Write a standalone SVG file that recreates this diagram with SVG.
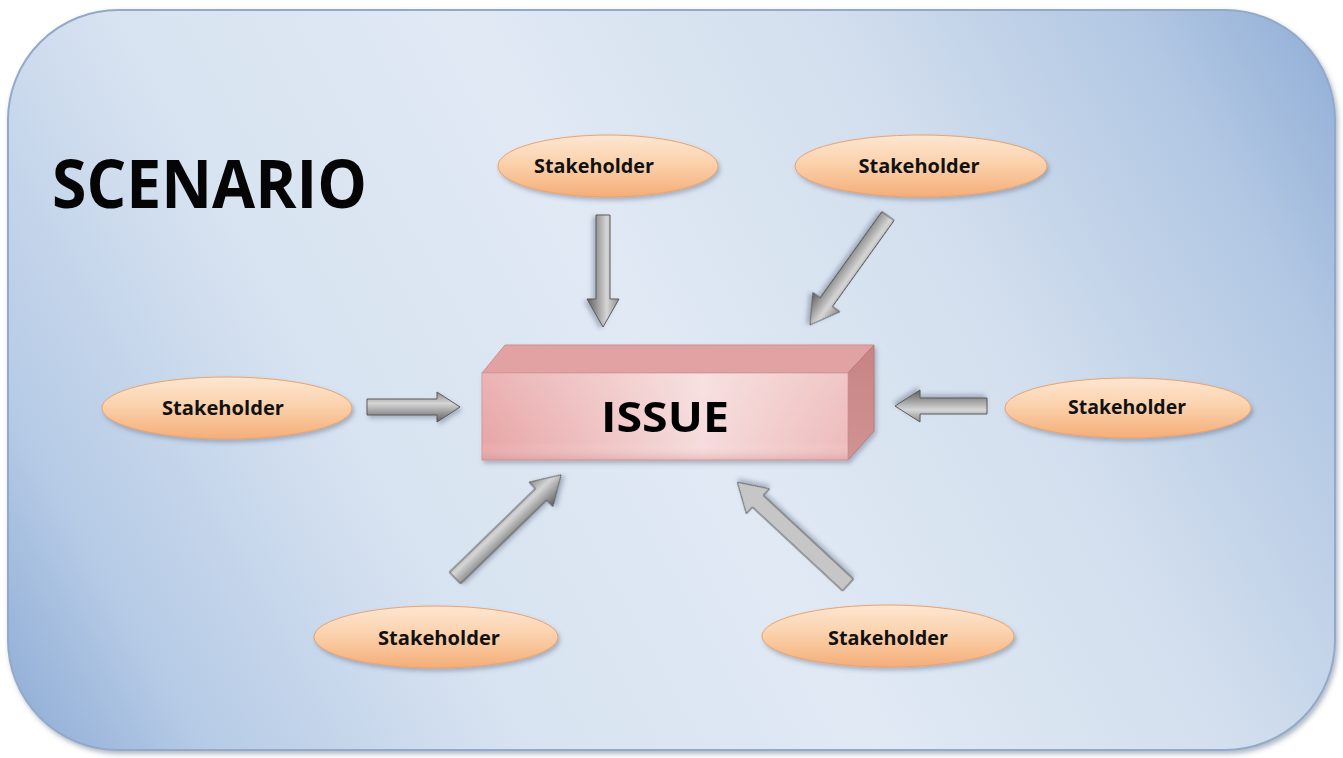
<svg xmlns="http://www.w3.org/2000/svg" width="1343" height="758" viewBox="0 0 1343 758">
  <defs>
    <linearGradient id="bg" gradientUnits="userSpaceOnUse" x1="0" y1="758" x2="1343" y2="0">
      <stop offset="0" stop-color="#8aa9d4"/>
      <stop offset="0.12" stop-color="#b6cbe6"/>
      <stop offset="0.3" stop-color="#d8e3f1"/>
      <stop offset="0.5" stop-color="#e0e9f4"/>
      <stop offset="0.7" stop-color="#d3dfee"/>
      <stop offset="0.88" stop-color="#b1c7e3"/>
      <stop offset="1" stop-color="#8dabd5"/>
    </linearGradient>
    <linearGradient id="peach" x1="0" y1="0" x2="0" y2="1">
      <stop offset="0" stop-color="#fde6d2"/>
      <stop offset="0.45" stop-color="#fbd2ad"/>
      <stop offset="1" stop-color="#f4ad78"/>
    </linearGradient>
    <linearGradient id="steel" x1="0" y1="0" x2="0" y2="1">
      <stop offset="0" stop-color="#8c8c8c"/>
      <stop offset="0.38" stop-color="#d6d6d6"/>
      <stop offset="1" stop-color="#5e5e5e"/>
    </linearGradient>
    <linearGradient id="front" x1="0" y1="0" x2="1" y2="0">
      <stop offset="0" stop-color="#e8a6a7"/>
      <stop offset="0.6" stop-color="#f6dcdc"/>
      <stop offset="1" stop-color="#eebcbc"/>
    </linearGradient>
    <linearGradient id="frontShade" x1="0" y1="0" x2="0" y2="1">
      <stop offset="0" stop-color="#ffffff" stop-opacity="0.15"/>
      <stop offset="0.8" stop-color="#ffffff" stop-opacity="0"/>
      <stop offset="1" stop-color="#c98888" stop-opacity="0.35"/>
    </linearGradient>
    <linearGradient id="top" x1="0" y1="0" x2="1" y2="0">
      <stop offset="0" stop-color="#e2a1a2"/>
      <stop offset="1" stop-color="#e0a2a2"/>
    </linearGradient>
    <linearGradient id="side" x1="0" y1="0" x2="0" y2="1">
      <stop offset="0" stop-color="#c88383"/>
      <stop offset="1" stop-color="#d19393"/>
    </linearGradient>
    <filter id="shadow" x="-10%" y="-20%" width="130%" height="150%">
      <feDropShadow dx="2" dy="3" stdDeviation="2" flood-color="#40506a" flood-opacity="0.35"/>
    </filter>
    <filter id="panelShadow" x="-5%" y="-5%" width="110%" height="110%">
      <feDropShadow dx="2" dy="3" stdDeviation="2.5" flood-color="#50607a" flood-opacity="0.45"/>
    </filter>
    <style>
      .ell { fill: url(#peach); stroke: #eba26c; stroke-width: 1; filter: url(#shadow); }
      .lbl { font-family: "Open Sans", "Liberation Sans", sans-serif; font-weight: bold; font-size: 19px; fill: #111111; text-anchor: middle; }
      .arrow { fill: url(#steel); stroke: #5a5a5a; stroke-width: 1; filter: url(#shadow); }
      .title { font-family: "Open Sans", "Liberation Sans", sans-serif; font-weight: bold; fill: #050505; }
    </style>
  </defs>

  <!-- backdrop panel -->
  <rect x="8" y="10" width="1327" height="740" rx="110" ry="110" fill="url(#bg)" stroke="#93a9c9" stroke-width="2" filter="url(#panelShadow)"/>

  <text class="title" x="52" y="208" font-size="66" textLength="315" lengthAdjust="spacingAndGlyphs">SCENARIO</text>

  <!-- central box -->
  <g id="issue" filter="url(#shadow)">
    <polygon points="482,373 505,345 874,345 848,373" fill="url(#top)" stroke="#cf8f8f" stroke-width="1"/>
    <polygon points="848,373 874,345 874,431 848,460" fill="url(#side)" stroke="#b97a7a" stroke-width="1"/>
    <rect x="482" y="373" width="366" height="87" fill="url(#front)" stroke="#d49696" stroke-width="1"/>
    <rect x="482" y="373" width="366" height="87" fill="url(#frontShade)"/>
    <text class="title" x="665" y="432" font-size="42" text-anchor="middle" textLength="128" lengthAdjust="spacingAndGlyphs">ISSUE</text>
  </g>

  <!-- stakeholders -->
  <g id="stakeholder-top">
    <ellipse class="ell" cx="608" cy="166" rx="110" ry="31"/>
    <text class="lbl" x="594" y="173" textLength="120" lengthAdjust="spacingAndGlyphs">Stakeholder</text>
  </g>
  <g id="stakeholder-top-right">
    <ellipse class="ell" cx="921" cy="166" rx="126" ry="31"/>
    <text class="lbl" x="919" y="173" textLength="121" lengthAdjust="spacingAndGlyphs">Stakeholder</text>
  </g>
  <g id="stakeholder-left">
    <ellipse class="ell" cx="227" cy="408" rx="125" ry="31"/>
    <text class="lbl" x="223" y="415" textLength="122" lengthAdjust="spacingAndGlyphs">Stakeholder</text>
  </g>
  <g id="stakeholder-right">
    <ellipse class="ell" cx="1128" cy="408" rx="123" ry="30"/>
    <text class="lbl" x="1127" y="414" textLength="118" lengthAdjust="spacingAndGlyphs">Stakeholder</text>
  </g>
  <g id="stakeholder-bottom-left">
    <ellipse class="ell" cx="436" cy="637" rx="122" ry="31"/>
    <text class="lbl" x="439" y="645" textLength="122" lengthAdjust="spacingAndGlyphs">Stakeholder</text>
  </g>
  <g id="stakeholder-bottom-right">
    <ellipse class="ell" cx="888" cy="636" rx="126" ry="31"/>
    <text class="lbl" x="888" y="645" textLength="120" lengthAdjust="spacingAndGlyphs">Stakeholder</text>
  </g>

  <!-- connectors: block arrows, drawn along +x then placed -->
  <g id="connectors">
    <path class="arrow" transform="translate(603,215) rotate(90)" d="M0,-7 L84,-7 L84,-16 L112,0 L84,16 L84,7 L0,7 Z"/>
    <path class="arrow" transform="translate(888,216) rotate(125.6)" d="M0,-7.5 L106,-7.5 L106,-16.5 L134,0 L106,16.5 L106,7.5 L0,7.5 Z"/>
    <path class="arrow" transform="translate(367,407)" d="M0,-8 L70,-8 L70,-15 L93,0 L70,15 L70,8 L0,8 Z"/>
    <path class="arrow" transform="translate(987,406) rotate(180)" d="M0,-8 L67,-8 L67,-16 L92,0 L67,16 L67,8 L0,8 Z"/>
    <path class="arrow" transform="translate(455,578) rotate(-44.2)" d="M0,-8 L120,-8 L120,-17 L148,0 L120,17 L120,8 L0,8 Z"/>
    <path class="arrow" transform="translate(848,585) rotate(-137.1)" d="M0,-8 L123,-8 L123,-17 L151,0 L123,17 L123,8 L0,8 Z" style="fill:#c6c6c6"/>
  </g>
</svg>
